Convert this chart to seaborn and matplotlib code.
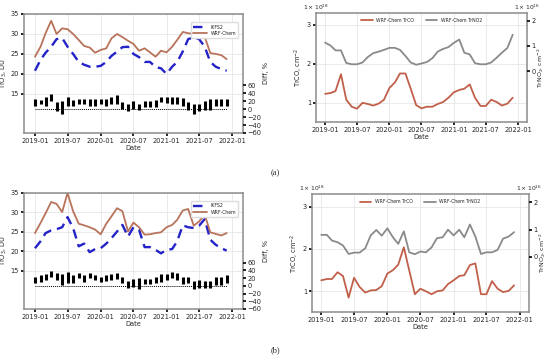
import numpy as np
import pandas as pd
import matplotlib.pyplot as plt
import matplotlib.dates as mdates
import seaborn as sns

# monthly means, 2019-01 .. 2021-12
months = pd.date_range('2019-01-01', '2021-12-01', freq='MS')

# (a) TrO3, DU
a_ikfs2 = [20.8, 23.5, 25.3, 26.8, 28.7, 29.0, 26.8, 25.0, 23.0, 22.3, 21.8, 21.8,
           22.0, 23.0, 24.5, 25.6, 26.7, 26.8, 25.0, 24.2, 23.0, 23.0, 21.7, 21.4,
           20.0, 21.8, 23.0, 25.6, 28.7, 29.2, 28.7, 26.8, 23.0, 21.8, 21.2, 20.8]
a_wrf = [24.3, 26.8, 30.2, 33.3, 30.0, 31.4, 31.2, 30.0, 28.5, 27.0, 26.6, 25.3,
         26.0, 26.4, 28.9, 30.0, 29.2, 28.3, 27.5, 25.8, 26.4, 25.4, 24.3, 25.8,
         25.4, 26.8, 28.5, 30.5, 30.2, 30.0, 29.9, 29.3, 25.2, 25.0, 24.7, 23.7]
a_diff_low = [9, 12, 7, 20, -5, -12, 9, 9, 14, 12, 9, 7,
              12, 9, 14, 12, 1, -5, 1, -2, 5, 5, 5, 18,
              15, 12, 12, 9, -3, -12, -5, -2, -3, 9, 9, 9]
a_diff_high = [26, 22, 31, 39, 18, 20, 32, 22, 26, 26, 26, 26,
               26, 26, 32, 35, 18, 14, 20, 12, 20, 20, 22, 32,
               32, 31, 31, 29, 18, 14, 12, 20, 26, 26, 26, 26]

# (b) TrO3, DU
b_ikfs2 = [20.8, 22.6, 24.7, 25.4, 25.7, 26.2, 28.8, 26.0, 21.3, 22.0, 19.8, 20.6,
           20.8, 22.0, 23.4, 25.1, 26.8, 23.8, 26.2, 25.6, 21.1, 21.1, 20.4, 19.5,
           20.4, 20.6, 22.6, 26.7, 26.2, 26.0, 26.6, 28.3, 23.0, 21.7, 20.8, 20.2]
b_wrf = [24.7, 27.3, 29.8, 32.7, 32.2, 30.1, 35.0, 30.3, 27.1, 26.7, 26.2, 25.6,
         24.4, 27.1, 29.0, 31.1, 30.3, 25.1, 27.4, 26.2, 24.3, 24.4, 24.7, 24.9,
         26.2, 26.8, 28.1, 30.5, 30.9, 26.6, 27.7, 29.4, 24.9, 24.5, 24.1, 24.7]
b_diff_low = [7, 11, 16, 24, 16, 3, 7, 7, 20, 11, 20, 16,
              10, 13, 16, 18, 7, -6, -4, -8, 4, 4, 7, 10,
              16, 20, 16, 4, 7, -8, -6, -6, -6, 1, 1, 7]
b_diff_high = [22, 29, 30, 39, 33, 30, 36, 27, 33, 29, 33, 27,
               22, 27, 30, 33, 24, 13, 18, 20, 18, 18, 22, 30,
               30, 36, 33, 24, 24, 13, 16, 13, 13, 22, 24, 27]

# WRF-Chem TrCO (x1e18) and TrNO2 (x1e16), cm-2
a_trco = [1.23, 1.25, 1.30, 1.73, 1.08, 0.90, 0.85, 1.00, 0.97, 0.93, 0.98, 1.08,
          1.38, 1.52, 1.75, 1.75, 1.36, 0.94, 0.86, 0.90, 0.90, 0.97, 1.02, 1.13,
          1.27, 1.33, 1.36, 1.47, 1.13, 0.92, 0.92, 1.08, 1.02, 0.93, 0.98, 1.13]
a_trno2 = [1.13, 1.01, 0.82, 0.82, 0.32, 0.27, 0.27, 0.34, 0.56, 0.71, 0.77, 0.84,
           0.92, 0.92, 0.84, 0.60, 0.34, 0.25, 0.30, 0.36, 0.51, 0.77, 0.88, 0.95,
           1.12, 1.25, 0.73, 0.66, 0.31, 0.27, 0.27, 0.34, 0.53, 0.73, 0.92, 1.44]
b_trco = [1.26, 1.29, 1.29, 1.45, 1.36, 0.85, 1.32, 1.10, 0.97, 1.02, 1.03, 1.12,
          1.42, 1.50, 1.63, 2.04, 1.49, 0.93, 1.06, 1.00, 0.93, 1.00, 1.02, 1.17,
          1.26, 1.36, 1.38, 1.62, 1.66, 0.93, 0.93, 1.24, 1.06, 0.98, 1.01, 1.14]
b_trno2 = [0.81, 0.81, 0.60, 0.54, 0.42, 0.11, 0.16, 0.16, 0.32, 0.79, 0.99, 0.78,
           1.05, 0.72, 0.48, 0.94, 0.17, 0.10, 0.20, 0.17, 0.35, 0.69, 0.72, 1.00,
           0.79, 1.00, 0.72, 1.19, 0.75, 0.11, 0.17, 0.17, 0.26, 0.67, 0.75, 0.91]

BLUE = '#2323c8'
BROWN = '#b8735a'
RED = '#c0604a'
GREY = '#8a8a8a'
FS = 4.8

sns.set_style('whitegrid', {'axes.edgecolor': '#8c8c8c', 'grid.color': '#e6e6e6'})
plt.rcParams['font.family'] = ['DejaVu Sans']
plt.rcParams['axes.linewidth'] = 1.1
plt.rcParams['grid.linewidth'] = 0.6


def style_axis(ax, xlim):
    ax.set_xlim(pd.Timestamp(xlim[0]), pd.Timestamp(xlim[1]))
    ax.xaxis.set_major_locator(mdates.MonthLocator(bymonth=[1, 7]))
    ax.xaxis.set_major_formatter(mdates.DateFormatter('%Y-%m'))
    ax.tick_params(axis='both', labelsize=FS, length=2, width=1.2, color='black', pad=1.5)
    ax.tick_params(axis='x', bottom=True)
    ax.tick_params(axis='y', left=True)
    ax.set_xlabel('Date', fontsize=FS, labelpad=1)


def ozone_panel(rect, ikfs2, wrf, dlow, dhigh):
    ax = fig.add_axes(rect)
    sns.lineplot(x=months, y=ikfs2, ax=ax, color=BLUE, lw=1.7,
                 linestyle=(0, (4, 2.5)), label='IKFS2')
    sns.lineplot(x=months, y=wrf, ax=ax, color=BROWN, lw=1.3, label='WRF-Chem')
    ax.set_ylim(5.2, 35)
    ax.set_yticks([15, 20, 25, 30, 35])
    ax.set_ylabel('TrO$_3$, DU', fontsize=FS, labelpad=1)
    style_axis(ax, ('2018-11-01', '2022-03-01'))
    ax.legend(loc='upper right', fontsize=3.3, handlelength=3, borderpad=0.5,
              labelspacing=0.3, framealpha=1, edgecolor='#dddddd',
              bbox_to_anchor=(0.99, 0.95))
    ax2 = ax.twinx()
    ax2.vlines(months, dlow, dhigh, color='black', lw=2.2)
    ax2.hlines(0, months[0], months[-1], color='black', lw=0.7, linestyles=(0, (1, 1)))
    ax2.set_ylim(-60, 240)
    ax2.set_yticks([-60, -40, -20, 0, 20, 40, 60])
    ax2.grid(False)
    ax2.spines[:].set_visible(False)
    ax2.tick_params(axis='y', right=True, labelsize=FS, length=2, width=1.2,
                    color='black', pad=1.5)
    ax2.set_ylabel('Diff, %', fontsize=FS, labelpad=1)
    return ax


def column_panel(rect, trco, trno2):
    ax = fig.add_axes(rect)
    sns.lineplot(x=months, y=trco, ax=ax, color=RED, lw=1.3, legend=False)
    ax.set_ylim(0.51, 3.3)
    ax.set_yticks([1, 2, 3])
    ax.set_ylabel('TrCO, cm$^{-2}$', fontsize=FS, labelpad=1)
    style_axis(ax, ('2018-11-10', '2022-02-20'))
    ax2 = ax.twinx()
    sns.lineplot(x=months, y=trno2, ax=ax2, color=GREY, lw=1.3, legend=False)
    ax2.set_ylim(-2.02, 2.31)
    ax2.set_yticks([0, 1, 2])
    ax2.grid(False)
    ax2.spines[:].set_visible(False)
    ax2.tick_params(axis='y', right=True, labelsize=FS, length=2, width=1.2,
                    color='black', pad=1.2)
    ax2.set_ylabel('TrNO$_2$, cm$^{-2}$', fontsize=4.5, labelpad=0.3)
    ax.text(0.0, 1.012, r'$1\times10^{18}$', transform=ax.transAxes, fontsize=4.3,
            ha='center', va='bottom')
    ax.text(1.0, 1.012, r'$1\times10^{16}$', transform=ax.transAxes, fontsize=4.3,
            ha='center', va='bottom')
    handles = [plt.Line2D([], [], color=RED, lw=1.3), plt.Line2D([], [], color=GREY, lw=1.3)]
    ax.legend(handles, ['WRF-Chem TrCO', 'WRF-Chem TrNO2'], loc='upper center',
              ncol=2, fontsize=3.3, frameon=False, handlelength=2.5,
              columnspacing=2.5, bbox_to_anchor=(0.5, 0.99))
    return ax


fig = plt.figure(figsize=(5.5, 3.58), dpi=100)

ozone_panel([0.0436, 0.6285, 0.398, 0.3324], a_ikfs2, a_wrf, a_diff_low, a_diff_high)
column_panel([0.5745, 0.6592, 0.3836, 0.305], a_trco, a_trno2)
ozone_panel([0.0436, 0.1369, 0.398, 0.324], b_ikfs2, b_wrf, b_diff_low, b_diff_high)
column_panel([0.567, 0.1285, 0.3944, 0.3296], b_trco, b_trno2)

fig.text(0.50, 0.515, '(a)', fontsize=6, family='Liberation Serif', ha='center', va='center')
fig.text(0.50, 0.022, '(b)', fontsize=6, family='Liberation Serif', ha='center', va='center')

fig.savefig('out.png', dpi=100)
